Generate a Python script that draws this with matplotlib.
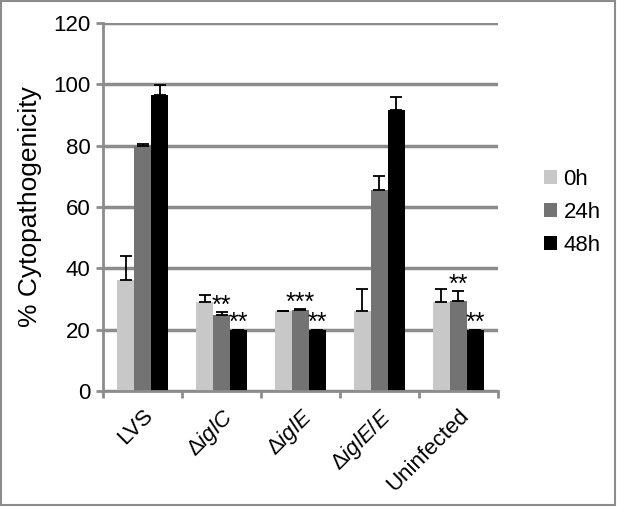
import numpy as np
import matplotlib
matplotlib.use("Agg")
import matplotlib.pyplot as plt
from matplotlib.patches import Rectangle

plt.rcParams["font.family"] = ["Liberation Sans", "DejaVu Sans"]
plt.rcParams["mathtext.fontset"] = "custom"
plt.rcParams["mathtext.rm"] = "Liberation Sans"
plt.rcParams["mathtext.it"] = "Liberation Sans:italic"

groups = [r"LVS", r"$\Delta\mathit{iglC}$", r"$\Delta\mathit{iglE}$",
          r"$\Delta\mathit{iglE/E}$", "Uninfected"]
times = ["0h", "24h", "48h"]
colors = ["#c8c8c8", "#737373", "#000000"]

vals_0h = [36.2, 29.1, 25.9, 26.2, 28.9]
vals_24h = [80.0, 24.6, 26.4, 65.5, 29.4]
vals_48h = [96.5, 20.0, 20.0, 91.6, 20.0]
err_0h = [7.8, 2.2, 0.3, 6.9, 4.2]
err_24h = [0.5, 1.1, 0.2, 4.7, 3.1]
err_48h = [3.3, 0.0, 0.0, 4.2, 0.0]

# significance marks: (group, series, text)
stars = [(1, 1, "**"), (1, 2, "**"), (2, 1, "***"), (2, 2, "**"),
         (4, 1, "**"), (4, 2, "**")]

fig = plt.figure(figsize=(6.17, 5.07), dpi=100)
ax = fig.add_axes([0.167, 0.229, 0.640, 0.726])

x = np.arange(len(groups))
w = 0.215
series = [vals_0h, vals_24h, vals_48h]
errs = [err_0h, err_24h, err_48h]
for i, (v, e) in enumerate(zip(series, errs)):
    pos = x + (i - 1) * w
    ax.bar(pos, v, w, color=colors[i], label=times[i], zorder=3)
    ax.errorbar(pos, v, yerr=[np.zeros(len(e)), e], fmt="none",
                ecolor="black", elinewidth=1.3, capsize=4, capthick=1.3,
                zorder=4)

for g, s, t in stars:
    top = series[s][g] + errs[s][g]
    ax.text(x[g] + (s - 1) * w, top - 1.8, t,
            ha="center", va="bottom", fontsize=18, zorder=5)

ax.set_ylim(0, 120)
ax.set_xlim(-0.5, 4.5)
ax.set_yticks(np.arange(0, 121, 20))
ax.yaxis.grid(True, color="#8c8c8c", linewidth=2.5, zorder=0)
ax.set_axisbelow(True)
for sp in ["top", "right"]:
    ax.spines[sp].set_visible(False)
ax.spines["left"].set_color("#8c8c8c")
ax.spines["left"].set_linewidth(2)
ax.spines["bottom"].set_color("#8c8c8c")
ax.spines["bottom"].set_linewidth(2)
ax.spines["bottom"].set_zorder(5)

ax.set_xticks(np.arange(-0.5, 4.6, 1.0))
ax.set_xticklabels([])
ax.set_xticks(x, minor=True)
ax.set_xticklabels(groups, minor=True, rotation=45, ha="right",
                   rotation_mode="anchor", fontsize=16)
ax.tick_params(axis="x", which="minor", length=0, pad=10)
ax.tick_params(axis="x", which="major", direction="out", length=5,
               width=2, color="#8c8c8c")
ax.tick_params(axis="y", direction="out", length=5, width=2,
               color="#8c8c8c", labelsize=16, pad=4)
ax.set_ylabel("% Cytopathogenicity", fontsize=19, labelpad=8)

ax.legend(loc="center left", bbox_to_anchor=(1.065, 0.485), frameon=False,
          fontsize=16, handlelength=0.6, handleheight=0.6,
          handletextpad=0.3, labelspacing=0.55)

fig.patches.append(Rectangle((0.001, 0.003), 0.995, 0.996,
                             transform=fig.transFigure, fill=False,
                             edgecolor="#8c8c8c", linewidth=1.5))

fig.savefig("out.png", dpi=100)
